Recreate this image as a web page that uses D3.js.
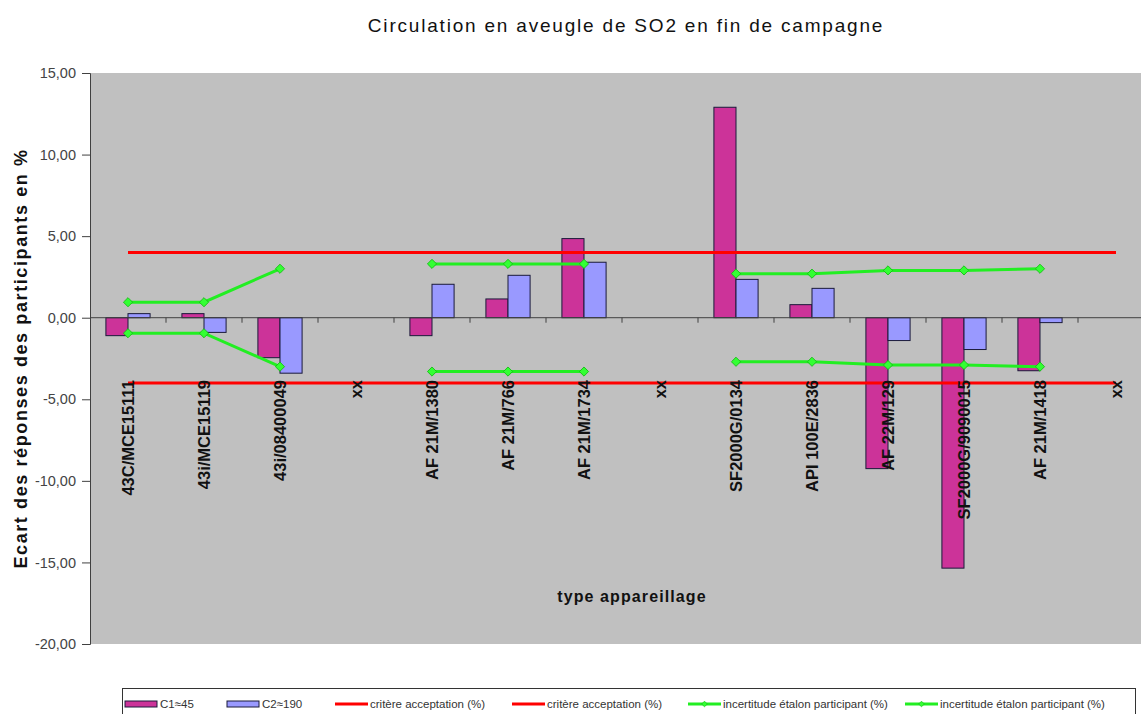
<!DOCTYPE html>
<html>
<head>
<meta charset="utf-8">
<script src="https://cdn.jsdelivr.net/npm/d3@7"></script>
<style>
  body { margin: 0; background: #fff; }
  svg { display: block; font-family: "Liberation Sans", Arial, sans-serif; }
</style>
</head>
<body>
<script>
// Chart data
var categories = ["43C/MCE15111", "43i/MCE15119", "43i/08400049", "xx", "AF 21M/1380", "AF 21M/766",
    "AF 21M/1734", "xx", "SF2000G/0134", "API 100E/2836", "AF 22M/129", "SF2000G/9090015", "AF 21M/1418", "xx"];
var c1 = [-1.1, 0.25, -2.45, null, -1.1, 1.15, 4.85, null, 12.9, 0.8, -9.25, -15.35, -3.25, null];
var c2 = [0.25, -0.9, -3.4, null, 2.05, 2.6, 3.4, null, 2.35, 1.8, -1.4, -1.95, -0.3, null];
var critHigh = [4, 4, 4, 4, 4, 4, 4, 4, 4, 4, 4, 4, 4, 4];
var critLow = [-4, -4, -4, -4, -4, -4, -4, -4, -4, -4, -4, -4, -4, -4];
var incHigh = [0.95, 0.95, 3.0, null, 3.3, 3.3, 3.3, null, 2.7, 2.7, 2.9, 2.9, 3.0, null];
var incLow = [-0.95, -0.95, -3.0, null, -3.3, -3.3, -3.3, null, -2.7, -2.7, -2.9, -2.9, -3.0, null];
var yTicks = [15, 10, 5, 0, -5, -10, -15, -20];
var seriesNames = ["C1\u224845", "C2\u2248190", "crit\u00e8re acceptation (%)", "crit\u00e8re acceptation (%)",
    "incertitude \u00e9talon participant (%)", "incertitude \u00e9talon participant (%)"];

var width = 1141, height = 714;
var plot = {left: 90, right: 1154, top: 73, bottom: 644};

var svg = d3.select("body").append("svg")
    .attr("width", width)
    .attr("height", height);

var x = d3.scaleBand()
    .domain(d3.range(categories.length))
    .range([plot.left, plot.right]);

var xi = d3.scaleBand()
    .domain(["c1", "c2"])
    .range([0, x.bandwidth()])
    .paddingInner(0)
    .paddingOuter(0.72);

var y = d3.scaleLinear()
    .domain([-20, 15])
    .range([plot.bottom, plot.top]);

// Plot background
svg.append("rect")
    .attr("x", plot.left)
    .attr("y", plot.top)
    .attr("width", plot.right - plot.left)
    .attr("height", plot.bottom - plot.top)
    .attr("fill", "#c0c0c0");

// Title
svg.append("text")
    .attr("x", 626)
    .attr("y", 32)
    .attr("text-anchor", "middle")
    .style("font-size", "19px")
    .style("letter-spacing", "1.8px")
    .attr("fill", "#111")
    .text("Circulation en aveugle de SO2 en fin de campagne");

// Bars
var bars = [{key: "c1", values: c1, fill: "#cc3399"}, {key: "c2", values: c2, fill: "#9999ff"}];
bars.forEach(function(s) {
    svg.append("g").selectAll("rect")
        .data(s.values.map((v, i) => ({i: i, v: v})).filter(d => d.v !== null))
        .enter().append("rect")
        .attr("x", d => x(d.i) + xi(s.key))
        .attr("width", xi.bandwidth())
        .attr("y", d => y(Math.max(0, d.v)))
        .attr("height", d => Math.abs(y(d.v) - y(0)))
        .attr("fill", s.fill)
        .attr("stroke", "#1a1a3a")
        .attr("stroke-width", 1);
});

// Y axis
var yAxis = svg.append("g")
    .attr("transform", "translate(" + plot.left + ",0)")
    .call(d3.axisLeft(y).tickValues(yTicks).tickSize(8).tickPadding(6)
        .tickFormat(d => d3.format(".2f")(d).replace(".", ",").replace("\u2212", "-")));
yAxis.select(".domain").attr("stroke", "#404040");
yAxis.selectAll(".tick line").attr("stroke", "#404040");
yAxis.selectAll("text")
    .style("font-size", "14.5px")
    .style("font-family", "'Liberation Sans', Arial, sans-serif")
    .attr("fill", "#444");

// X axis line at zero with ticks between categories
var xAxis = svg.append("g")
    .attr("transform", "translate(0," + y(0) + ")");
xAxis.append("line")
    .attr("x1", plot.left).attr("x2", plot.right)
    .attr("stroke", "#404040");
xAxis.selectAll(".xt")
    .data(d3.range(1, categories.length))
    .enter().append("line")
    .attr("x1", d => x(d)).attr("x2", d => x(d))
    .attr("y1", 0).attr("y2", 5)
    .attr("stroke", "#404040");

// Lines
var cx = i => x(i) + x.bandwidth() / 2;
var line = d3.line()
    .defined(d => d.v !== null)
    .x(d => cx(d.i))
    .y(d => y(d.v));
var toPts = arr => arr.map((v, i) => ({i: i, v: v}));

[critHigh, critLow].forEach(function(arr) {
    svg.append("path")
        .datum(toPts(arr))
        .attr("d", line)
        .attr("fill", "none")
        .attr("stroke", "#ff0000")
        .attr("stroke-width", 3);
});

var diamond = d3.symbol().type(d3.symbolSquare).size(42);
[incHigh, incLow].forEach(function(arr) {
    svg.append("path")
        .datum(toPts(arr))
        .attr("d", line)
        .attr("fill", "none")
        .attr("stroke", "#22ee22")
        .attr("stroke-width", 3);
    svg.append("g").selectAll("path")
        .data(toPts(arr).filter(d => d.v !== null))
        .enter().append("path")
        .attr("d", diamond)
        .attr("transform", d => "translate(" + cx(d.i) + "," + y(d.v) + ") rotate(45)")
        .attr("fill", "#33ff33")
        .attr("stroke", "#11bb11")
        .attr("stroke-width", 0.8);
});

// Category labels (rotated)
svg.append("g").selectAll("text")
    .data(categories)
    .enter().append("text")
    .attr("transform", (d, i) => "translate(" + (cx(i) + 6) + ",380) rotate(-90)")
    .attr("text-anchor", "end")
    .style("font-size", "16.5px")
    .style("font-weight", "bold")
    .attr("fill", "#111")
    .text(d => d);

// Axis titles
svg.append("text")
    .attr("x", 632)
    .attr("y", 602)
    .attr("text-anchor", "middle")
    .style("font-size", "16px")
    .style("font-weight", "bold")
    .style("letter-spacing", "1.1px")
    .attr("fill", "#111")
    .text("type appareillage");

svg.append("text")
    .attr("transform", "translate(27," + ((plot.top + plot.bottom) / 2) + ") rotate(-90)")
    .attr("text-anchor", "middle")
    .style("font-size", "18px")
    .style("font-weight", "bold")
    .style("letter-spacing", "1.6px")
    .attr("fill", "#111")
    .text("Ecart des r\u00e9ponses des participants en %");

// Legend
var legend = svg.append("g");
legend.append("rect")
    .attr("x", 122.5).attr("y", 688.5)
    .attr("width", 1013).attr("height", 40)
    .attr("fill", "#fff")
    .attr("stroke", "#333");

var legendX = [125, 227, 335, 512, 688, 905];
seriesNames.forEach(function(name, k) {
    var g = legend.append("g").attr("transform", "translate(" + legendX[k] + ",704)");
    if (k < 2) {
        g.append("rect")
            .attr("x", 0).attr("y", -3)
            .attr("width", 32).attr("height", 6)
            .attr("fill", k === 0 ? "#cc3399" : "#9999ff")
            .attr("stroke", "#1a1a3a");
    } else {
        var col = k < 4 ? "#ff0000" : "#22ee22";
        g.append("line")
            .attr("x1", 0).attr("x2", 33)
            .attr("stroke", col).attr("stroke-width", 3);
        if (k >= 4) {
            g.append("path")
                .attr("d", d3.symbol().type(d3.symbolSquare).size(16))
                .attr("transform", "translate(16.5,0) rotate(45)")
                .attr("fill", "#33ff33")
                .attr("stroke", "#11bb11")
                .attr("stroke-width", 0.6);
        }
    }
    g.append("text")
        .attr("x", 35)
        .attr("y", 4)
        .style("font-size", "11.5px")
        .attr("fill", "#333")
        .text(name);
});
</script>
</body>
</html>
